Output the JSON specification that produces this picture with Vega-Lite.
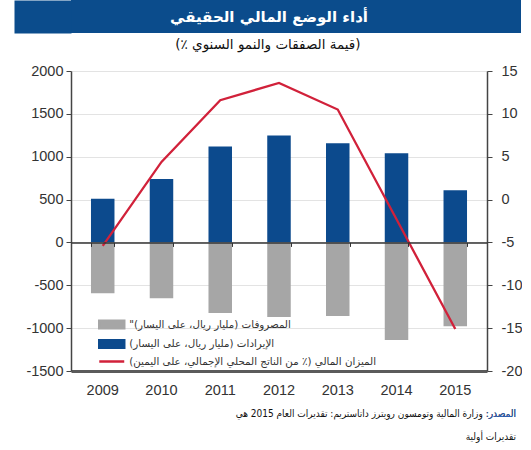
{
  "$schema": "https://vega.github.io/schema/vega-lite/v6.json",
  "padding": {"left": 13, "top": 0, "right": 0, "bottom": 0},
  "spacing": 4,
  "vconcat": [
    {
      "width": 450, "height": 33,
      "view": {"fill": "#0b4c8c", "stroke": null},
      "data": {"values": [{"t": "أداء الوضع المالي الحقيقي"}]},
      "mark": {"type": "text", "font": "DejaVu Sans", "fontSize": 15, "fontWeight": "bold", "color": "white", "dx": -27},
      "encoding": {
        "text": {"field": "t"},
        "y": {"datum": 0, "type": "quantitative", "scale": {"domain": [-1, 1]},
          "axis": {"orient": "left", "offset": 28.5, "domainWidth": 57, "domainColor": "#0b4c8c", "domainCap": "butt", "labels": false, "ticks": false, "grid": false, "title": null}}
      }
    },
    {
      "width": 416, "height": 300,
      "title": {"text": "\u200f(قيمة الصفقات والنمو السنوي \u066a)\u200f", "font": "DejaVu Sans", "fontSize": 13.5, "fontWeight": "normal", "color": "#111", "offset": 12, "anchor": "middle", "frame": "bounds"},
      "layer": [
        {
          "data": {"values": [
            {"year": "2009", "series": "rev", "value": 510},
            {"year": "2010", "series": "rev", "value": 740},
            {"year": "2011", "series": "rev", "value": 1118},
            {"year": "2012", "series": "rev", "value": 1247},
            {"year": "2013", "series": "rev", "value": 1156},
            {"year": "2014", "series": "rev", "value": 1040},
            {"year": "2015", "series": "rev", "value": 608},
            {"year": "2009", "series": "exp", "value": -594},
            {"year": "2010", "series": "exp", "value": -650},
            {"year": "2011", "series": "exp", "value": -822},
            {"year": "2012", "series": "exp", "value": -870},
            {"year": "2013", "series": "exp", "value": -858},
            {"year": "2014", "series": "exp", "value": -1137},
            {"year": "2015", "series": "exp", "value": -978}
          ]},
          "mark": {"type": "bar"},
          "encoding": {
            "x": {"field": "year", "type": "ordinal",
              "scale": {"paddingInner": 0.6, "paddingOuter": 0.34},
              "axis": {"orient": "bottom", "title": null, "ticks": false, "labelAngle": 0, "labelPadding": 12, "domainColor": "#5b5b5b", "domainWidth": 3, "grid": false}},
            "y": {"field": "value", "type": "quantitative", "stack": null,
              "scale": {"domain": [-1500, 2000], "nice": false},
              "axis": {"orient": "left", "title": "\u00a0", "titleFontSize": 1, "titlePadding": 11, "values": [-1500, -1000, -500, 0, 500, 1000, 1500, 2000], "labelExpr": "datum.value + ''", "grid": true, "gridColor": "#e3e3e3", "domainColor": "#444", "domainWidth": 1.5, "tickColor": "#444", "tickSize": 5, "labelPadding": 3}},
            "color": {"field": "series", "type": "nominal",
              "scale": {"domain": ["exp", "rev", "bal"], "range": ["#a6a6a6", "#0c4a8d", "#d1213a"]},
              "legend": {
                "orient": "none", "legendX": 33.25, "legendY": 317, "title": null,
                "labelExpr": "datum.value == 'exp' ? '\u200fالمصروفات (مليار ريال، على اليسار)\"\u200f' : datum.value == 'rev' ? '\u200fالإيرادات (مليار ريال، على اليسار)\u200f' : '\u200fالميزان المالي (\u066a من الناتج المحلي الإجمالي، على اليمين)\u200f'",
                "labelFont": "DejaVu Sans", "labelFontSize": 10.3, "labelColor": "#333", "labelLimit": 400,
                "symbolSize": 156, "labelOffset": 10, "rowPadding": 0.5,
                "encode": {"symbols": {"update": {
                  "shape": {"signal": "datum.value == 'bal' ? 'M-2,0H2' : 'M-2,-0.6H2V0.6H-2Z'"},
                  "fill": {"signal": "datum.value == 'bal' ? 'transparent' : datum.value == 'rev' ? '#0c4a8d' : '#a6a6a6'"},
                  "stroke": {"signal": "datum.value == 'bal' ? '#d1213a' : 'transparent'"},
                  "strokeWidth": {"value": 2.5},
                  "opacity": {"value": 1}
                }}}
              }}
          }
        },
        {
          "data": {"values": [
            {"year": "2009", "balance": -5.4},
            {"year": "2010", "balance": 4.4},
            {"year": "2011", "balance": 11.6},
            {"year": "2012", "balance": 13.6},
            {"year": "2013", "balance": 10.5},
            {"year": "2014", "balance": -2.3},
            {"year": "2015", "balance": -15.1}
          ]},
          "mark": {"type": "line", "strokeWidth": 2.3},
          "encoding": {
            "x": {"field": "year", "type": "ordinal",
              "axis": {"orient": "top", "offset": -171.43, "title": null, "labels": false, "ticks": true, "tickSize": -4, "tickBand": "extent", "domainColor": "#333", "domainWidth": 1.5, "tickColor": "#333", "grid": false, "zindex": 1}},
            "y": {"field": "balance", "type": "quantitative",
              "scale": {"domain": [-20, 15], "nice": false},
              "axis": {"orient": "right", "title": null, "values": [-20, -15, -10, -5, 0, 5, 10, 15], "labelExpr": "datum.value + ''", "grid": false, "domainColor": "#444", "domainWidth": 1.5, "tickColor": "#444", "tickSize": 5, "labelPadding": 9}},
            "color": {"datum": "bal"}
          }
        }
      ],
      "resolve": {"scale": {"y": "independent"}, "axis": {"x": "independent"}}
    },
    {
      "width": 445, "height": 44,
      "view": {"stroke": null},
      "layer": [
        {
          "data": {"values": [{"t": "\u200fالمصدر: وزارة المالية وتومسون رويترز داتاستريم: تقديرات العام 2015 هي\u200f"}]},
          "mark": {"type": "text", "align": "right", "baseline": "top", "x": 445, "y": 8, "font": "DejaVu Sans Condensed", "fontSize": 10, "color": "#111"},
          "encoding": {"text": {"field": "t"}}
        },
        {
          "data": {"values": [{"t": "\u200fالمصدر:\u200f"}]},
          "mark": {"type": "text", "align": "right", "baseline": "top", "x": 445, "y": 8, "font": "DejaVu Sans Condensed", "fontSize": 10, "color": "#2f62b5"},
          "encoding": {"text": {"field": "t"}}
        },
        {
          "data": {"values": [{"t": "\u200fتقديرات أولية\u200f"}]},
          "mark": {"type": "text", "align": "right", "baseline": "top", "x": 445, "y": 31, "font": "DejaVu Sans Condensed", "fontSize": 10, "color": "#111"},
          "encoding": {"text": {"field": "t"}}
        }
      ]
    }
  ],
  "config": {
    "view": {"stroke": null},
    "axis": {"labelFont": "Liberation Sans", "labelColor": "#333", "labelFontSize": 14.5}
  }
}
